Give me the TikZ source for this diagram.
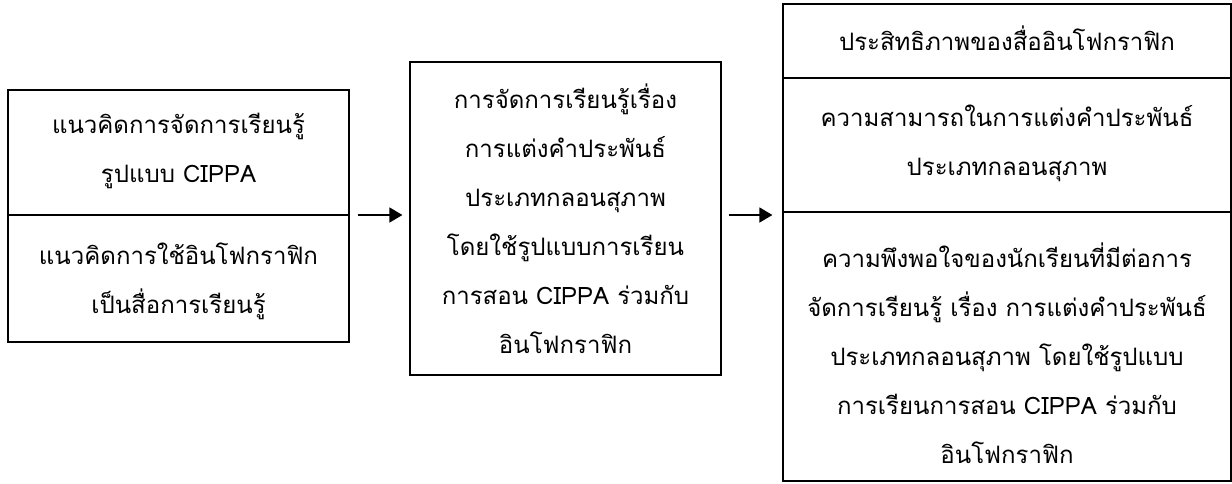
\documentclass[tikz,border=0pt]{standalone}
\usepackage{fontspec}
\newfontfamily\thaifont[Script=Thai]{Loma}
\usetikzlibrary{arrows.meta}

\newlength{\du}
\setlength{\du}{1pt}

\tikzset{
  box/.style={draw, line width=1.2\du, inner sep=0pt},
  boxtext/.style={align=center, inner sep=0pt, font=\thaifont\fontsize{24}{49}\selectfont},
  divline/.style={line width=1.2\du},
  flow/.style={line width=1.6\du, -{Triangle[length=13pt, width=15pt]}}
}

\begin{document}
\begin{tikzpicture}
\pgftransformyscale{-1.000000}
\useasboundingbox (0\du,0\du) rectangle (1232\du,483\du);
% left box
\node[box, minimum width=341\du, minimum height=252\du] (concept) at (178.5\du,216\du) {};
\draw[divline] (concept.west |- 0,215\du) -- (concept.east |- 0,215\du);
\node[boxtext] (cippa) at (178.5\du,151\du) {แนวคิดการจัดการเรียนรู้\\รูปแบบ CIPPA};
\node[boxtext] (infoidea) at (178.5\du,281\du) {แนวคิดการใช้อินโฟกราฟิก\\เป็นสื่อการเรียนรู้};
% middle box
\node[box, minimum width=311\du, minimum height=313\du] (lesson) at (565.5\du,218.5\du) {};
\node[boxtext] (lessontext) at (565.5\du,218.5\du) {การจัดการเรียนรู้เรื่อง\\การแต่งคำประพันธ์\\ประเภทกลอนสุภาพ\\โดยใช้รูปแบบการเรียน\\การสอน CIPPA ร่วมกับ\\อินโฟกราฟิก};
% right box
\node[box, minimum width=448\du, minimum height=477\du] (result) at (1007\du,242.5\du) {};
\draw[divline] (result.west |- 0,78\du) -- (result.east |- 0,78\du);
\draw[divline] (result.west |- 0,212\du) -- (result.east |- 0,212\du);
\node[boxtext] (efficiency) at (1007\du,38\du) {ประสิทธิภาพของสื่ออินโฟกราฟิก};
\node[boxtext] (ability) at (1007\du,143\du) {ความสามารถในการแต่งคำประพันธ์\\ประเภทกลอนสุภาพ};
\node[boxtext] (satisfaction) at (1007\du,353.5\du) {ความพึงพอใจของนักเรียนที่มีต่อการ\\จัดการเรียนรู้ เรื่อง การแต่งคำประพันธ์\\ประเภทกลอนสุภาพ โดยใช้รูปแบบ\\การเรียนการสอน CIPPA ร่วมกับ\\อินโฟกราฟิก};
% arrows
\coordinate (c1) at (concept.east |- 0,215\du);
\coordinate (l1) at (lesson.west |- 0,215\du);
\coordinate (l2) at (lesson.east |- 0,215\du);
\coordinate (r1) at (result.west |- 0,215\du);
\draw[flow] ([xshift=8\du]c1) -- ([xshift=-7\du]l1);
\draw[flow] ([xshift=7\du]l2) -- ([xshift=-10\du]r1);
\end{tikzpicture}
\end{document}
